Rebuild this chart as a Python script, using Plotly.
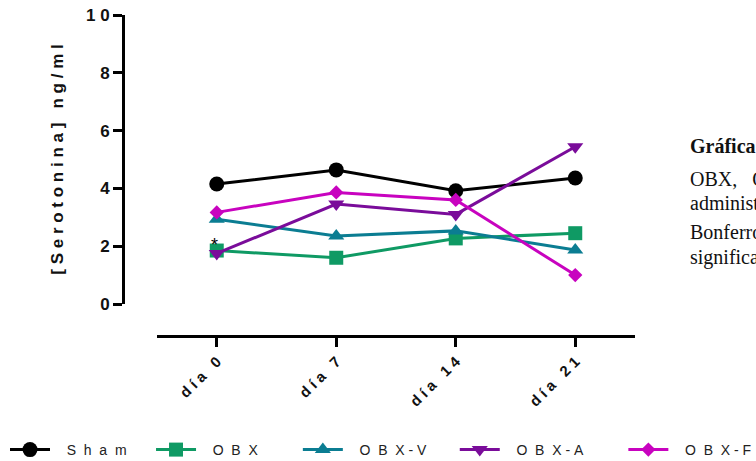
import plotly.graph_objects as go

# Serotonin concentration (ng/ml) per group and sampling day
dias = ["día 0", "día 7", "día 14", "día 21"]
sham = [4.15, 4.64, 3.92, 4.36]
obx = [1.85, 1.60, 2.27, 2.45]
obx_v = [2.93, 2.35, 2.53, 1.87]
obx_a = [1.75, 3.46, 3.10, 5.44]
obx_f = [3.17, 3.86, 3.60, 1.00]

grupos = ["Sham", "OBX", "OBX-V", "OBX-A", "OBX-F"]
y_ticks = [0, 2, 4, 6, 8, 10]

NB = "\u00a0"
W, H = 756, 461
# plot frame in pixels: y axis at x=123, x axis line at y=336
L, T, B = 123, 15, 336


def spaced(s, gap=1):
    """Spread characters apart (Prism-style letter spacing)."""
    out = ""
    for i, ch in enumerate(s):
        if i:
            near_dash = ch == "-" or s[i - 1] == "-"
            out += NB * (max(gap - 1, 1) if near_dash else gap)
        out += NB if ch == " " else ch
    return out


series = [
    (grupos[0], sham, "#000000", "circle", 15),
    (grupos[1], obx, "#0f9a64", "square", 14),
    (grupos[2], obx_v, "#0b7d92", "triangle-up", 14),
    (grupos[3], obx_a, "#7a0c9a", "triangle-down", 14),
    (grupos[4], obx_f, "#c803bf", "diamond", 11),
]
# trailing padding (nbsp count) that spreads the legend entries
legend_pad = [5, 9, 6, 9, 0]

fig = go.Figure()
for (name, vals, color, symbol, size), pad in zip(series, legend_pad):
    fig.add_trace(go.Scatter(
        x=dias, y=vals, mode="lines+markers",
        name=NB * 3 + spaced(name, 2) + NB * pad,
        line=dict(color=color, width=3),
        marker=dict(symbol=symbol, size=size, color=color),
    ))

# significance mark on OBX at day 0
fig.add_annotation(x=dias[0], y=obx[0], text="*", showarrow=False,
                   yshift=6, xshift=-2,
                   font=dict(size=18, color="black", family="Liberation Sans"))

# surrounding document text (runs past the right edge)
doc_lines = [
    ("<b>Gráfica 3.</b>", 146),
    ("OBX," + NB * 3 + "OBX-V, OBX-A y OBX-F", 179),
    ("administración", 203),
    ("Bonferroni", 232),
    ("significativa", 257),
]
for txt, ypx in doc_lines:
    fig.add_annotation(
        xref="paper", yref="paper",
        x=688 / W, y=(B - ypx) / (B - T),
        xanchor="left", yanchor="middle", showarrow=False, text=txt,
        font=dict(family="Liberation Serif", size=20, color="#111"),
    )

fig.update_layout(
    width=W, height=H,
    margin=dict(l=0, r=0, t=T, b=H - B, pad=0, autoexpand=False),
    paper_bgcolor="white", plot_bgcolor="white",
    showlegend=True,
    legend=dict(
        orientation="h", x=5 / W, xanchor="left",
        y=(B - 450) / (B - T), yanchor="middle",
        font=dict(family="Liberation Sans", size=14, color="#222"),
        itemwidth=40, bgcolor="rgba(0,0,0,0)",
    ),
    xaxis=dict(
        domain=[157 / W, 635 / W], anchor="free", position=0,
        type="category", range=[-0.5, 3.5], automargin=False,
        tickvals=dias, ticktext=["<b>" + spaced(d) + "</b>" for d in dias],
        tickangle=-45,
        tickfont=dict(family="Liberation Sans", size=15, color="#111"),
        showline=True, linecolor="black", linewidth=3,
        ticks="outside", ticklen=9, tickwidth=2.5, tickcolor="black",
        showgrid=False, zeroline=False,
    ),
    yaxis=dict(
        domain=[(B - 304) / (B - T), 1], anchor="free", position=L / W,
        range=[0, 10], automargin=False,
        tickvals=y_ticks,
        ticktext=["<b>" + spaced(str(v)) + "</b>" for v in y_ticks],
        tickfont=dict(family="Liberation Sans", size=17, color="#111"),
        showline=True, linecolor="black", linewidth=3,
        ticks="outside", ticklen=9, tickwidth=2.5, tickcolor="black",
        showgrid=False, zeroline=False,
        title=dict(text="<b>" + spaced("[Serotonina] ng/ml") + "</b>",
                   font=dict(family="Liberation Sans", size=17, color="#111"),
                   standoff=17),
    ),
)

fig.write_html("out.html")
